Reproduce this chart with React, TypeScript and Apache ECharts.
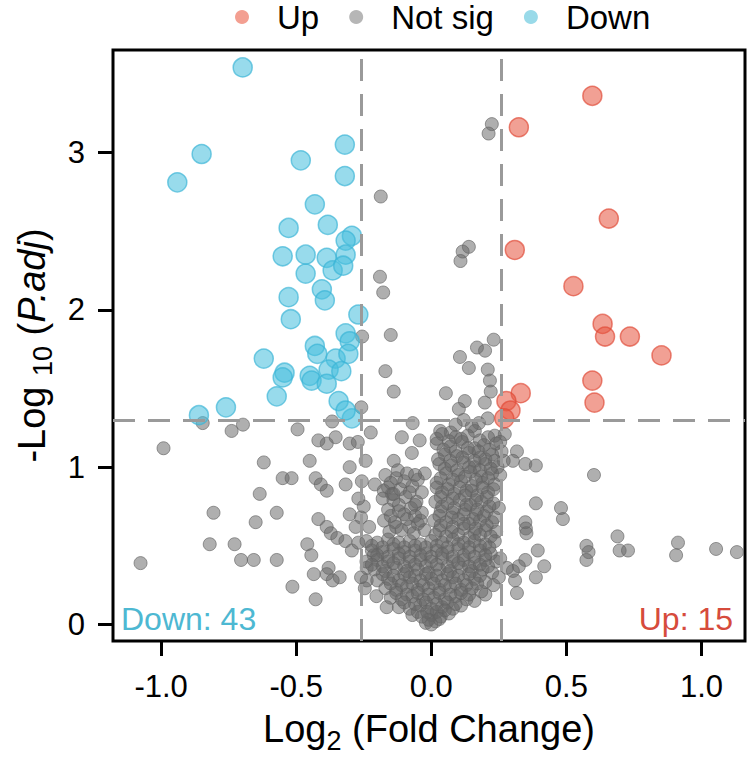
import React, { useEffect, useRef } from "react";
import * as echarts from "echarts";

// ---- data ----
const legendNames = ["Up", "Not sig", "Down"];
const xTicks = [-1, -0.5, 0, 0.5, 1];
const yTicks = [0, 1, 2, 3];
const fcThreshold = 0.263; // log2(1.2)
const pThreshold = 1.301; // -log10(0.05)

const upPoints: number[][] = [
  [0.596, 3.36], [0.324, 3.16], [0.657, 2.58], [0.309, 2.38], [0.526, 2.15],
  [0.634, 1.91], [0.643, 1.83], [0.735, 1.83], [0.852, 1.71], [0.596, 1.55],
  [0.604, 1.41], [0.331, 1.47], [0.278, 1.42], [0.293, 1.36], [0.27, 1.31],
];

const downPoints: number[][] = [
  [-0.698, 3.54], [-0.85, 2.99], [-0.94, 2.81], [-0.483, 2.95], [-0.32, 3.05],
  [-0.32, 2.85], [-0.431, 2.67], [-0.528, 2.52], [-0.383, 2.54], [-0.294, 2.47],
  [-0.317, 2.44], [-0.55, 2.34], [-0.465, 2.35], [-0.387, 2.33], [-0.317, 2.35],
  [-0.465, 2.23], [-0.365, 2.25], [-0.326, 2.28], [-0.405, 2.13], [-0.394, 2.06],
  [-0.528, 2.08], [-0.52, 1.94], [-0.27, 1.97], [-0.317, 1.85], [-0.302, 1.8],
  [-0.431, 1.77], [-0.422, 1.72], [-0.354, 1.69], [-0.307, 1.72], [-0.62, 1.69],
  [-0.543, 1.6], [-0.55, 1.57], [-0.45, 1.58], [-0.38, 1.62], [-0.333, 1.61],
  [-0.443, 1.55], [-0.387, 1.53], [-0.572, 1.45], [-0.343, 1.42], [-0.76, 1.38],
  [-0.86, 1.33], [-0.294, 1.31], [-0.317, 1.36],
];

const notSigPoints: number[][] = [
  // upper scattered
  [0.224, 3.18], [0.212, 3.12], [-0.187, 2.72], [0.139, 2.4], [0.116, 2.37],
  [0.108, 2.31], [-0.19, 2.21], [-0.178, 2.11], [-0.15, 1.84], [-0.256, 1.83],
  [0.231, 1.81], [0.169, 1.76], [0.199, 1.74], [0.106, 1.7], [0.139, 1.63],
  [0.209, 1.62], [-0.17, 1.61], [-0.139, 1.48], [0.217, 1.55], [0.22, 1.48],
  [0.054, 1.47], [0.124, 1.42], [0.102, 1.37], [0.198, 1.41], [-0.259, 1.38],
  // middle band
  [-0.846, 1.28], [-0.739, 1.23], [-0.697, 1.27], [-0.991, 1.12], [-0.495, 1.24],
  [-0.367, 1.29], [-0.069, 1.28], [0.033, 1.23], [0.072, 1.22], [-0.62, 1.03],
  [-0.55, 0.93], [-0.517, 0.93], [0.317, 1.1], [0.302, 1.04], [0.348, 1.02],
  [0.387, 1.01], [0.602, 0.95], [-0.635, 0.83], [-0.387, 1.15], [-0.418, 1.17],
  [-0.354, 1.19], [-0.302, 1.15], [-0.272, 1.16], [-0.224, 1.22], [-0.109, 1.19],
  [-0.043, 1.17], [-0.072, 1.09], [-0.139, 1.04], [-0.124, 0.98], [-0.024, 0.96],
  [-0.243, 1.04], [-0.257, 0.91], [-0.302, 1.0], [-0.317, 0.89], [-0.45, 1.04],
  [-0.428, 0.93], [-0.409, 0.89], [-0.387, 0.85], [-0.209, 0.89], [-0.176, 0.85],
  [-0.146, 0.83], [0.161, 1.23], [0.176, 1.28], [0.209, 1.31], [0.272, 1.21],
  [0.235, 1.2], [0.255, 1.16], [0.12, 1.3], [0.15, 1.26], [0.09, 1.27],
  [0.26, 1.1], [0.268, 1.04], [0.255, 0.95],
  // lower scattered
  [-1.076, 0.39], [-0.82, 0.51], [-0.806, 0.71], [-0.728, 0.51], [-0.704, 0.41],
  [-0.657, 0.41], [-0.65, 0.65], [-0.572, 0.71], [-0.572, 0.41],
  [-0.514, 0.24], [-0.459, 0.51], [-0.444, 0.44], [-0.435, 0.32], [-0.428, 0.16],
  [-0.418, 0.67], [-0.387, 0.62], [-0.372, 0.58], [-0.348, 0.55], [-0.38, 0.36],
  [-0.387, 0.32], [-0.339, 0.3], [-0.365, 0.28], [-0.302, 0.7], [-0.318, 0.53],
  [-0.294, 0.47], [-0.239, 0.36], [-0.239, 0.28], [-0.246, 0.23], [-0.203, 0.18],
  [-0.165, 0.11], [-0.213, 0.44], [-0.26, 0.3], [-0.27, 0.52],
  [0.387, 0.77], [0.48, 0.74], [0.487, 0.67], [0.348, 0.65], [0.35, 0.61],
  [0.352, 0.58], [0.394, 0.47], [0.418, 0.37], [0.387, 0.3], [0.317, 0.2],
  [0.348, 0.41], [0.324, 0.37], [0.302, 0.34], [0.574, 0.5], [0.582, 0.46],
  [0.574, 0.41], [0.689, 0.56], [0.697, 0.47], [0.728, 0.47], [0.913, 0.52],
  [0.906, 0.44], [1.054, 0.48], [1.131, 0.46], [0.255, 0.42], [0.28, 0.36],
  [0.31, 0.28], [0.2, 0.19], [0.23, 0.25], [0.25, 0.3],
  // dense right arm
  [0.04, 1.21], [0.09, 1.19], [0.135, 1.2], [0.21, 1.19],
  [0.02, 1.15], [0.07, 1.13], [0.115, 1.16], [0.16, 1.12], [0.195, 1.14], [0.24, 1.15],
  [0.05, 1.08], [0.095, 1.07], [0.14, 1.09], [0.18, 1.06], [0.225, 1.08],
  [0.03, 1.02], [0.075, 1.01], [0.12, 1.03], [0.16, 1.0], [0.2, 1.02], [0.245, 1.0],
  [0.055, 0.96], [0.1, 0.95], [0.145, 0.97], [0.185, 0.94], [0.225, 0.96],
  [0.02, 0.9], [0.065, 0.89], [0.11, 0.91], [0.15, 0.88], [0.19, 0.9], [0.235, 0.89],
  [0.04, 0.84], [0.085, 0.83], [0.13, 0.85], [0.17, 0.82], [0.21, 0.84],
  [0.015, 0.78], [0.06, 0.77], [0.105, 0.79], [0.145, 0.76], [0.185, 0.78], [0.23, 0.77],
  [0.035, 0.72], [0.08, 0.71], [0.125, 0.73], [0.165, 0.7], [0.205, 0.72], [0.25, 0.74],
  [0.01, 0.66], [0.055, 0.65], [0.1, 0.67], [0.14, 0.64], [0.18, 0.66], [0.225, 0.65],
  [0.03, 0.6], [0.075, 0.59], [0.12, 0.61], [0.16, 0.58], [0.2, 0.6], [0.24, 0.59],
  [0.02, 1.18], [0.065, 1.165], [0.11, 1.18], [0.18, 1.17],
  [0.045, 1.11], [0.09, 1.1], [0.135, 1.12], [0.175, 1.1], [0.215, 1.11],
  [0.025, 1.05], [0.07, 1.04], [0.115, 1.06], [0.16, 1.04], [0.2, 1.05], [0.235, 1.04],
  [0.05, 0.99], [0.095, 0.98], [0.14, 1.0], [0.18, 0.98], [0.22, 0.99],
  [0.035, 0.93], [0.08, 0.92], [0.125, 0.94], [0.165, 0.92], [0.21, 0.93],
  [0.02, 0.87], [0.06, 0.86], [0.105, 0.87], [0.15, 0.85], [0.19, 0.87], [0.23, 0.86],
  [0.035, 0.81], [0.08, 0.8], [0.125, 0.82], [0.165, 0.79], [0.205, 0.81],
  [0.04, 0.75], [0.085, 0.74], [0.13, 0.76], [0.17, 0.73], [0.215, 0.75],
  [0.03, 0.69], [0.075, 0.68], [0.12, 0.7], [0.155, 0.67], [0.195, 0.69], [0.235, 0.68],
  [0.035, 0.63], [0.08, 0.62], [0.12, 0.64], [0.165, 0.61], [0.205, 0.63],
  [0.015, 0.57], [0.055, 0.56], [0.1, 0.57], [0.14, 0.55], [0.18, 0.57], [0.22, 0.56],
  // left upper part
  [-0.17, 0.95], [-0.13, 0.93], [-0.09, 0.96], [-0.05, 0.92],
  [-0.16, 0.87], [-0.115, 0.86], [-0.07, 0.88], [-0.035, 0.84],
  [-0.18, 0.8], [-0.14, 0.79], [-0.095, 0.81], [-0.055, 0.78],
  [-0.16, 0.73], [-0.12, 0.72], [-0.075, 0.74], [-0.035, 0.71],
  [-0.175, 0.66], [-0.135, 0.65], [-0.09, 0.67], [-0.05, 0.64],
  [-0.23, 0.62], [-0.155, 0.59], [-0.11, 0.6], [-0.065, 0.58], [-0.025, 0.6],
  [-0.26, 0.68], [-0.25, 0.75], [-0.28, 0.62], [-0.27, 0.8],
  [-0.15, 0.9], [-0.1, 0.91], [-0.06, 0.95], [-0.14, 0.83], [-0.08, 0.84],
  [-0.12, 0.76], [-0.06, 0.76], [-0.15, 0.69], [-0.1, 0.7], [-0.06, 0.69],
  [-0.13, 0.62], [-0.08, 0.62], [-0.04, 0.66],
  // dense core
  [-0.24, 0.53], [-0.2, 0.52], [-0.16, 0.54], [-0.12, 0.52], [-0.08, 0.53], [-0.04, 0.51],
  [0.0, 0.53], [0.04, 0.52], [0.08, 0.54], [0.12, 0.52], [0.16, 0.53], [0.2, 0.51], [0.235, 0.53],
  [-0.22, 0.47], [-0.18, 0.46], [-0.14, 0.48], [-0.1, 0.46], [-0.06, 0.47], [-0.02, 0.45],
  [0.02, 0.47], [0.06, 0.46], [0.1, 0.48], [0.14, 0.46], [0.18, 0.47], [0.22, 0.45],
  [-0.24, 0.4], [-0.2, 0.41], [-0.16, 0.4], [-0.12, 0.42], [-0.08, 0.4], [-0.04, 0.41],
  [0.0, 0.4], [0.04, 0.42], [0.08, 0.4], [0.12, 0.41], [0.16, 0.39], [0.2, 0.41], [0.24, 0.4],
  [-0.21, 0.35], [-0.17, 0.34], [-0.13, 0.36], [-0.09, 0.34], [-0.05, 0.35], [-0.01, 0.33],
  [0.03, 0.35], [0.07, 0.34], [0.11, 0.36], [0.15, 0.34], [0.19, 0.35], [0.225, 0.33],
  [-0.2, 0.28], [-0.16, 0.29], [-0.12, 0.28], [-0.08, 0.3], [-0.04, 0.28], [0.0, 0.29],
  [0.04, 0.28], [0.08, 0.3], [0.12, 0.28], [0.16, 0.29], [0.2, 0.27],
  [-0.17, 0.23], [-0.13, 0.22], [-0.09, 0.24], [-0.05, 0.22], [-0.01, 0.23],
  [0.03, 0.22], [0.07, 0.24], [0.11, 0.22], [0.15, 0.23], [0.185, 0.21],
  [-0.15, 0.17], [-0.11, 0.16], [-0.07, 0.18], [-0.03, 0.16], [0.01, 0.17],
  [0.05, 0.16], [0.09, 0.18], [0.13, 0.16], [0.16, 0.15],
  [-0.12, 0.11], [-0.08, 0.1], [-0.04, 0.12], [0.0, 0.1], [0.04, 0.11], [0.08, 0.1], [0.11, 0.12],
  [-0.07, 0.06], [-0.035, 0.05], [0.0, 0.06], [0.035, 0.05], [0.065, 0.07],
  [-0.02, 0.01], [0.015, 0.02], [0.0, 0.0],
  [-0.22, 0.5], [-0.18, 0.49], [-0.14, 0.51], [-0.1, 0.49], [-0.06, 0.5], [-0.02, 0.49],
  [0.02, 0.5], [0.06, 0.49], [0.1, 0.51], [0.14, 0.49], [0.18, 0.5], [0.215, 0.49],
  [-0.2, 0.44], [-0.16, 0.43], [-0.12, 0.45], [-0.08, 0.43], [-0.04, 0.44], [0.0, 0.43],
  [0.04, 0.45], [0.08, 0.43], [0.12, 0.44], [0.16, 0.43], [0.2, 0.44],
  [-0.22, 0.38], [-0.18, 0.37], [-0.14, 0.39], [-0.1, 0.37], [-0.06, 0.38], [-0.02, 0.37],
  [0.02, 0.38], [0.06, 0.37], [0.1, 0.39], [0.14, 0.37], [0.18, 0.38], [0.21, 0.37],
  [-0.18, 0.32], [-0.14, 0.31], [-0.1, 0.32], [-0.06, 0.31], [-0.02, 0.32],
  [0.02, 0.31], [0.06, 0.32], [0.1, 0.31], [0.14, 0.32], [0.18, 0.31],
  [-0.15, 0.26], [-0.11, 0.25], [-0.07, 0.26], [-0.03, 0.25], [0.01, 0.26],
  [0.05, 0.25], [0.09, 0.26], [0.13, 0.25], [0.17, 0.26],
  [-0.13, 0.2], [-0.09, 0.19], [-0.05, 0.2], [-0.01, 0.19], [0.03, 0.2], [0.07, 0.19],
  [0.11, 0.2], [0.14, 0.19],
  [-0.1, 0.14], [-0.06, 0.13], [-0.02, 0.14], [0.02, 0.13], [0.06, 0.14], [0.09, 0.13],
  [-0.05, 0.08], [-0.015, 0.08], [0.02, 0.08], [0.05, 0.09],
  [-0.01, 0.03], [0.03, 0.035],
];

const FONT = "Liberation Sans";

export default function App() {
  const ref = useRef<HTMLDivElement>(null);

  useEffect(() => {
    if (!ref.current) return;
    const chart = echarts.init(ref.current, null, { renderer: "svg" });
    const richTitle = {
      n: { fontSize: 38, lineHeight: 40, verticalAlign: "top", fontFamily: FONT, color: "#000" },
      i: { fontSize: 38, lineHeight: 40, verticalAlign: "top", fontFamily: FONT, color: "#000", fontStyle: "italic" },
      s: { fontSize: 27, lineHeight: 44, verticalAlign: "bottom", fontFamily: FONT, color: "#000" },
    };
    chart.setOption({
      animation: false,
      backgroundColor: "#fff",
      textStyle: { fontFamily: FONT },
      legend: {
        left: 235,
        top: 0,
        padding: 0,
        icon: "circle",
        itemWidth: 14,
        itemHeight: 14,
        itemGap: 30,
        selectedMode: false,
        textStyle: { fontSize: 33, color: "#000", fontFamily: FONT, padding: [0, 0, 0, 23], lineHeight: 34 },
        data: [
          { name: legendNames[0], itemStyle: { color: "#F08776", borderWidth: 0 } },
          { name: legendNames[1], itemStyle: { color: "#A4A4A4", borderWidth: 0 } },
          { name: legendNames[2], itemStyle: { color: "#80D1E4", borderWidth: 0 } },
        ],
      },
      grid: {
        left: 113,
        top: 50,
        right: 9,
        bottom: 121,
        show: true,
        borderColor: "#000",
        borderWidth: 3,
        backgroundColor: "transparent",
      },
      xAxis: {
        type: "value",
        min: -1.178,
        max: 1.161,
        splitLine: { show: false },
        axisLine: { show: false, onZero: false },
        axisTick: { show: true, length: 15, lineStyle: { color: "#000", width: 3 }, customValues: xTicks },
        axisLabel: {
          customValues: xTicks,
          formatter: (v: number) => v.toFixed(1),
          fontSize: 31,
          color: "#000",
          margin: 30,
          fontFamily: FONT,
        },
        name: "{n|Log}{s|2}{n| (Fold Change)}",
        nameLocation: "middle",
        nameGap: 69,
        nameTextStyle: { rich: richTitle },
      },
      yAxis: {
        type: "value",
        min: -0.105,
        max: 3.651,
        splitLine: { show: false },
        axisLine: { show: false, onZero: false },
        axisTick: { show: true, length: 15, lineStyle: { color: "#000", width: 3 }, customValues: yTicks },
        axisLabel: {
          customValues: yTicks,
          formatter: (v: number) => String(v),
          fontSize: 31,
          color: "#000",
          margin: 28,
          fontFamily: FONT,
        },
        name: "{n|-Log }{s|10}{n| (}{i|P.adj}{n|)}",
        nameLocation: "middle",
        nameRotate: 90,
        nameGap: 40,
        nameTextStyle: { rich: richTitle },
      },
      graphic: [
        {
          type: "text",
          left: 121,
          top: 603,
          z: 100,
          style: { text: `Down: ${downPoints.length}`, fontSize: 32, fontFamily: FONT, fill: "#4DB8D2" },
        },
        {
          type: "text",
          right: 21,
          top: 603,
          z: 100,
          style: { text: `Up: ${upPoints.length}`, fontSize: 32, fontFamily: FONT, fill: "#D64B3C" },
        },
      ],
      series: [
        {
          name: legendNames[1],
          type: "scatter",
          data: notSigPoints,
          symbolSize: 13,
          itemStyle: { color: "rgba(104,104,104,0.66)", borderColor: "rgba(98,98,98,0.8)", borderWidth: 1 },
          z: 2,
        },
        {
          name: legendNames[2],
          type: "scatter",
          data: downPoints,
          symbolSize: 19,
          itemStyle: { color: "rgba(72,190,222,0.7)", borderColor: "rgba(58,180,214,0.85)", borderWidth: 1.5 },
          z: 3,
        },
        {
          name: legendNames[0],
          type: "scatter",
          data: upPoints,
          symbolSize: 19,
          itemStyle: { color: "rgba(230,85,65,0.7)", borderColor: "rgba(224,74,55,0.85)", borderWidth: 1.5 },
          z: 4,
        },
        {
          name: "thresholds",
          type: "scatter",
          data: [],
          z: 10,
          markLine: {
            silent: true,
            symbol: "none",
            label: { show: false },
            lineStyle: { type: [22, 13], color: "#9a9a9a", width: 3 },
            data: [{ xAxis: -fcThreshold }, { xAxis: fcThreshold }, { yAxis: pThreshold }],
          },
        },
      ],
    });
    return () => chart.dispose();
  }, []);

  return <div ref={ref} style={{ position: "absolute", left: 0, top: 0, width: 754, height: 762 }} />;
}
